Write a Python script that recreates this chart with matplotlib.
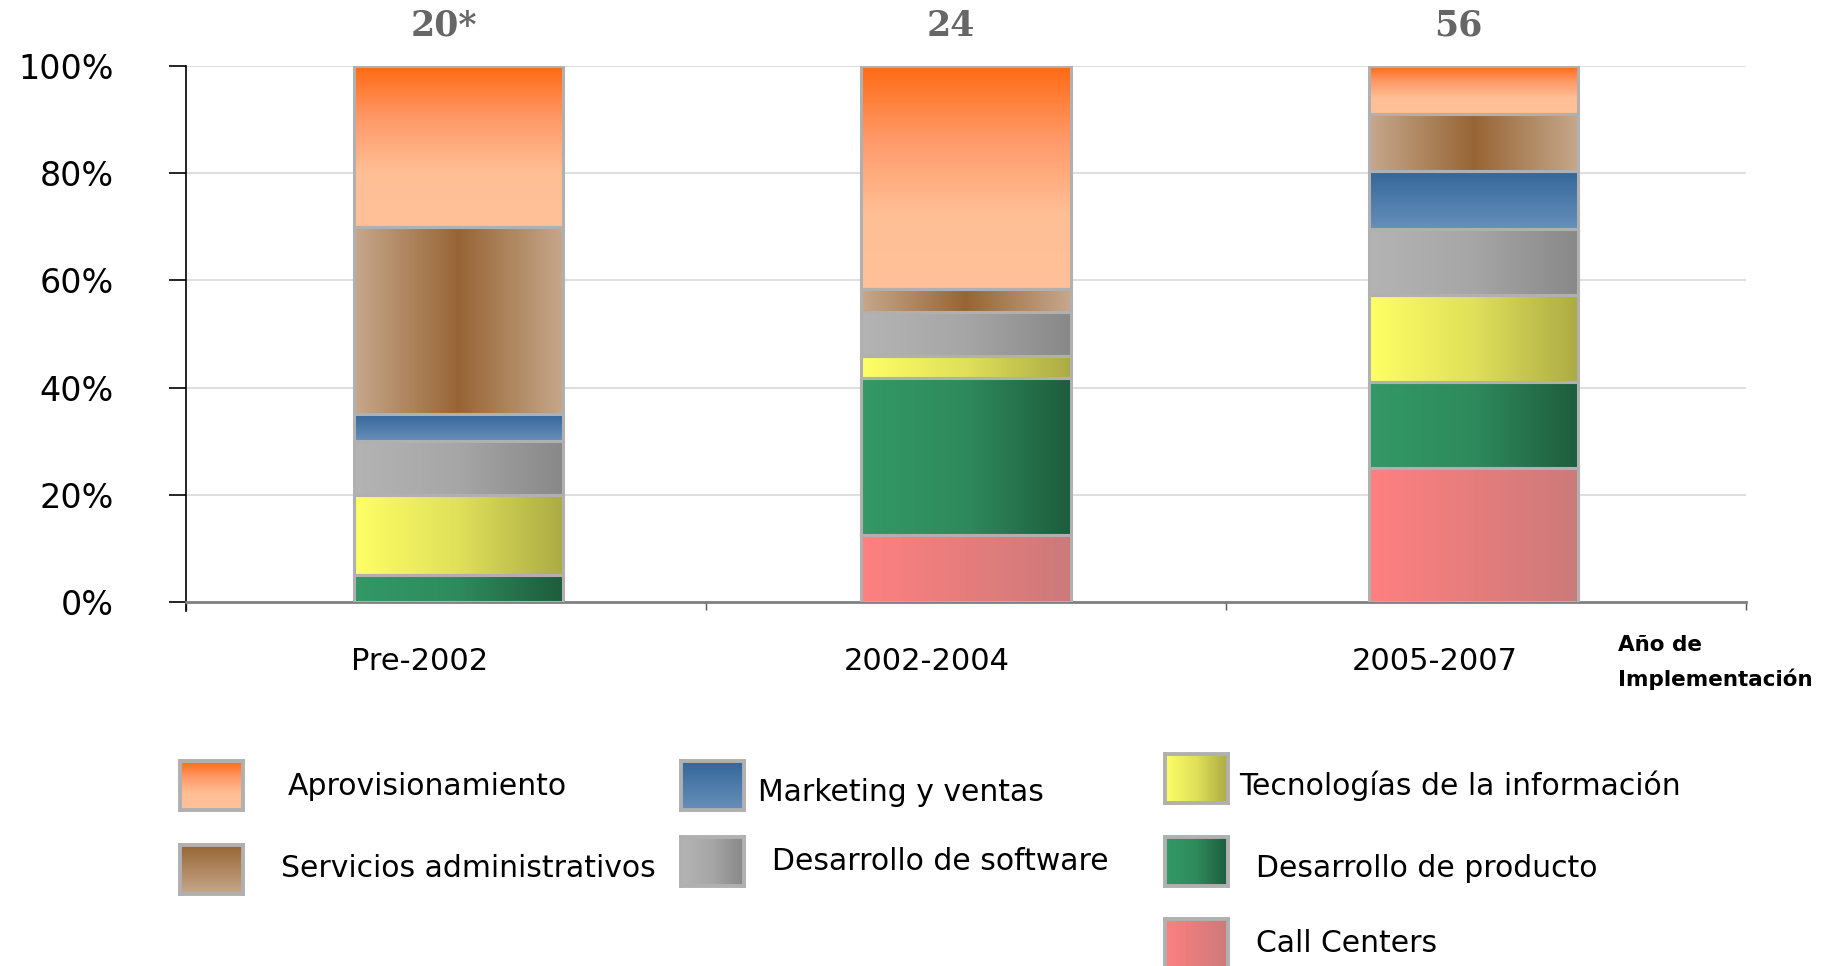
import numpy as np
import matplotlib
matplotlib.use("Agg")
import matplotlib.pyplot as plt
from matplotlib.colors import LinearSegmentedColormap
from matplotlib.patches import Rectangle


# ------------------------------------------------------------
# Data (% of companies per activity, by implementation period)
# ------------------------------------------------------------
PERIODS = ["Pre-2002", "2002-2004", "2005-2007"]
N_COMPANIES = ["20*", "24", "56"]

CALL_CENTERS = [0.0, 12.5, 25.0]
DES_PRODUCTO = [5.0, 29.2, 16.1]
TEC_INFO = [15.0, 4.2, 16.1]
DES_SOFTWARE = [10.0, 8.3, 12.5]
MARKETING = [5.0, 0.0, 10.7]
SERV_ADMIN = [35.0, 4.2, 10.7]
APROVISION = [30.0, 41.7, 8.9]

# bottom -> top stacking order
SERIES = [
    ("Call Centers", CALL_CENTERS),
    ("Desarrollo de producto", DES_PRODUCTO),
    ("Tecnologías de la información", TEC_INFO),
    ("Desarrollo de software", DES_SOFTWARE),
    ("Marketing y ventas", MARKETING),
    ("Servicios administrativos", SERV_ADMIN),
    ("Aprovisionamiento", APROVISION),
]

# ------------------------------------------------------------
# Styles: gradient stops + direction ("h" left->right, "v" top->bottom)
# ------------------------------------------------------------
BAR_STYLE = {
    "Call Centers": (["#FF8080", "#CC7A7A"], "h"),
    "Desarrollo de producto": (["#339966", "#2E8A5C", "#1E5C3D"], "h"),
    "Tecnologías de la información": (["#FFFF66", "#E0E05A", "#ABAB45"], "h"),
    "Desarrollo de software": (["#B4B4B4", "#A6A6A6", "#888888"], "h"),
    "Marketing y ventas": (["#346699", "#6790BA"], "v"),
    "Servicios administrativos": (["#C6A88C", "#976534", "#C6A88C"], "h"),
    "Aprovisionamiento": (["#FF6A13", "#FF9A6A", "#FFBF95", "#FFC099"], "v"),
}

LEGEND_STYLE = dict(BAR_STYLE)
LEGEND_STYLE["Servicios administrativos"] = (["#976534", "#C6A88C"], "v")

EDGE = "#B0B0B0"
BAR_W = 0.413
X_MIN, X_MAX = -0.537, 2.537

W_REF, H_REF = 1568.0, 830.0  # layout measured on the shrunk reference

# legend layout: label -> (swatch x, swatch y top, text x, text y)
LEGEND_LAYOUT = {
    "Aprovisionamiento": (155, 654, 247, 676),
    "Servicios administrativos": (155, 726, 241, 746),
    "Marketing y ventas": (585, 654, 651, 681),
    "Desarrollo de software": (585, 719, 663, 740),
    "Tecnologías de la información": (1001, 648, 1065, 675),
    "Desarrollo de producto": (1001, 719, 1079, 746),
    "Call Centers": (1001, 790, 1079, 811),
}
SW_W, SW_H = 54, 42


def gradient(stops, direction, n=256):
    cmap = LinearSegmentedColormap.from_list("g", stops)
    vals = np.linspace(0, 1, n)
    img = vals.reshape(1, n) if direction == "h" else vals.reshape(n, 1)
    return img, cmap


fig = plt.figure(figsize=(18.25, 9.66), dpi=100)
ax = fig.add_axes([160 / W_REF, 1 - 517 / H_REF, 1340 / W_REF, 460 / H_REF])

for i in range(len(PERIODS)):
    bottom = 0.0
    for name, values in SERIES:
        h = values[i]
        if h <= 0:
            continue
        img, cmap = gradient(*BAR_STYLE[name])
        ax.imshow(img, cmap=cmap, vmin=0, vmax=1, aspect="auto",
                  interpolation="bilinear",
                  extent=[i - BAR_W / 2, i + BAR_W / 2, bottom, bottom + h],
                  zorder=2)
        ax.add_patch(Rectangle((i - BAR_W / 2, bottom), BAR_W, h, fill=False,
                               edgecolor=EDGE, lw=2.2, zorder=3))
        bottom += h

    ax.text(i - 0.03, 107.6, N_COMPANIES[i], ha="center", va="center",
            fontsize=25, fontweight="bold", family="DejaVu Serif",
            color="#666666", clip_on=False)
    ax.text(i - 0.077, -11.1, PERIODS[i], ha="center", va="center",
            fontsize=22, clip_on=False)

ax.set_xlim(X_MIN, X_MAX)
ax.set_ylim(0, 100)

ax.set_yticks(np.arange(0, 101, 20))
ax.set_yticklabels([f"{v}%" for v in range(0, 101, 20)], fontsize=24)
ax.tick_params(axis="y", length=12, width=1.2, color="black", pad=40)

ax.set_xticks(np.linspace(X_MIN, X_MAX, 4))
ax.set_xticklabels([])
ax.tick_params(axis="x", length=6, width=1.0, color="#555555")

ax.set_axisbelow(True)
ax.yaxis.grid(True, color="#D9D9D9", lw=1.2)

for side in ["top", "right"]:
    ax.spines[side].set_visible(False)
ax.spines["left"].set_color("black")
ax.spines["left"].set_linewidth(1.2)
ax.spines["bottom"].set_color("#808080")
ax.spines["bottom"].set_linewidth(2.0)
ax.plot([X_MIN, X_MIN], [0, -1.8], color="black", lw=1.2, clip_on=False)

fig.text(1390 / W_REF, 1 - 546 / H_REF, "Año de\nImplementación",
         ha="left", va="top", fontsize=15.5, fontweight="bold",
         linespacing=1.75)

# custom legend
for name, (sx, sy, tx, ty) in LEGEND_LAYOUT.items():
    sax = fig.add_axes([sx / W_REF, 1 - (sy + SW_H) / H_REF,
                        SW_W / W_REF, SW_H / H_REF])
    img, cmap = gradient(*LEGEND_STYLE[name])
    sax.imshow(img, cmap=cmap, vmin=0, vmax=1, aspect="auto",
               interpolation="bilinear")
    sax.set_xticks([])
    sax.set_yticks([])
    for sp in sax.spines.values():
        sp.set_color(EDGE)
        sp.set_linewidth(2.8)
    fig.text(tx / W_REF, 1 - ty / H_REF, name, ha="left", va="center",
             fontsize=21.5)

fig.savefig("out.png", dpi=100)
